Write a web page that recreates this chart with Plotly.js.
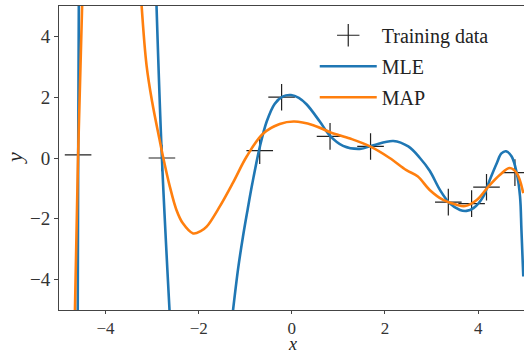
<!DOCTYPE html>
<html>
<head>
<meta charset="utf-8">
<script src="https://cdn.plot.ly/plotly-3.0.1.min.js"></script>
<style>html,body{margin:0;padding:0;background:#fff;}#chart{width:524px;height:355px;}</style>
</head>
<body>
<div id="chart"></div>
<script>
// Training data
const trainX = [-4.59, -2.79, -0.69, -0.22, 0.82, 1.69, 3.36, 3.86, 4.18, 4.79];
const trainY = [0.1, 0.0, 0.24, 2.0, 0.71, 0.38, -1.45, -1.5, -0.96, -0.48];

// MLE curve, branches separated by null where it leaves the view
const mleX = [-4.598, -4.588, -4.574, null,
  -2.91, -2.79, -2.62, null,
  -1.27, -1.15, -1.05, -0.95, -0.85, -0.69, -0.54, -0.37, -0.2, -0.02, 0.15, 0.32, 0.6, 0.82,
  1.1, 1.46, 1.75, 2.18, 2.5, 2.75, 2.96, 3.18, 3.39, 3.61, 3.75, 3.9, 4.11, 4.25, 4.4, 4.5,
  4.6, 4.72, 4.83, 4.9, 4.93, 4.97];
const mleY = [-5.2, 0.1, 5.2, null,
  5.2, 0.0, -5.2, null,
  -5.1, -3.6, -2.59, -1.7, -0.85, 0.35, 1.2, 1.78, 2.02, 2.07, 1.98, 1.76, 1.2, 0.73,
  0.4, 0.3, 0.42, 0.56, 0.38, 0.0, -0.42, -1.05, -1.49, -1.71, -1.74, -1.65, -1.27, -0.72, -0.17, 0.15,
  0.22, 0.05, -0.5, -1.27, -2.37, -3.9];

// MAP curve
const mapX = [-4.66, -4.59, -4.5, null,
  -3.23, -3.12, -3.0, -2.84, -2.76, -2.62, -2.48, -2.34, -2.12, -1.95, -1.83, -1.55, -1.26, -0.97,
  -0.62, -0.26, 0.05, 0.46, 0.82, 1.25, 1.68, 2.1, 2.46, 2.7, 2.96, 3.25, 3.54, 3.72, 3.97, 4.22,
  4.47, 4.68, 4.83, 4.97];
const mapY = [-5.2, 0.1, 5.2, null,
  5.1, 3.05, 1.85, 0.6, 0.0, -0.94, -1.7, -2.15, -2.48, -2.4, -2.26, -1.6, -0.8, 0.05,
  0.8, 1.12, 1.2, 1.08, 0.85, 0.64, 0.38, 0.0, -0.4, -0.6, -1.05, -1.38, -1.54, -1.58, -1.38, -0.94,
  -0.55, -0.33, -0.5, -1.16];

const xTicks = [-4, -2, 0, 2, 4];
const yTicks = [-4, -2, 0, 2, 4];
const xLabel = 'x';
const yLabel = 'y';

const FONT = 'Liberation Serif';

const traces = [
  {x: trainX, y: trainY, mode: 'markers', name: 'Training data', legendgroup: 'a',
   marker: {symbol: 'cross-thin', size: 19, color: '#222', line: {color: '#222', width: 1.2}}},
  {x: mleX, y: mleY, mode: 'lines', name: 'MLE', legendgroup: 'b', connectgaps: false,
   line: {color: '#1f77b4', width: 2.6, shape: 'spline', smoothing: 1}},
  {x: mapX, y: mapY, mode: 'lines', name: 'MAP', legendgroup: 'c', connectgaps: false,
   line: {color: '#ff7f0e', width: 2.6, shape: 'spline', smoothing: 1}}
];

const layout = {
  width: 524, height: 355,
  margin: {l: 59, r: 0, t: 6, b: 45},
  paper_bgcolor: '#fff', plot_bgcolor: '#fff',
  font: {family: FONT, color: '#333', size: 18},
  showlegend: true,
  legend: {x: 0.55, y: 0.968, xanchor: 'left', yanchor: 'top', bgcolor: 'rgba(0,0,0,0)',
           font: {family: FONT, size: 20, color: '#222'}, traceorder: 'grouped', tracegroupgap: 2,
           itemwidth: 57},
  xaxis: {range: [-5, 4.985], tickvals: xTicks, ticks: 'outside', ticklen: 3, tickwidth: 1,
          tickcolor: '#444', showline: true, mirror: true, linecolor: '#444', linewidth: 1,
          showgrid: false, zeroline: false,
          tickfont: {family: FONT, size: 17, color: '#333'}},
  yaxis: {range: [-5, 5], tickvals: yTicks, ticks: 'outside', ticklen: 4, tickwidth: 1,
          tickcolor: '#444', showline: true, mirror: false, linecolor: '#444', linewidth: 1,
          showgrid: false, zeroline: false, tickfont: {family: FONT, size: 19, color: '#333'}},
  annotations: [
    {text: '<i>' + xLabel + '</i>', xref: 'paper', yref: 'paper', x: (292 - 59) / 465, y: -45 / 304,
     xanchor: 'center', yanchor: 'bottom', showarrow: false, borderpad: 0,
     font: {family: FONT, size: 18, color: '#222'}},
    {text: '<i>' + yLabel + '</i>', xref: 'paper', yref: 'paper', x: -0.097, y: 0.5,
     xanchor: 'center', yanchor: 'middle', showarrow: false, textangle: -90,
     font: {family: FONT, size: 22, color: '#222'}}
  ]
};

Plotly.newPlot('chart', traces, layout, {displayModeBar: false, staticPlot: true});
</script>
</body>
</html>
